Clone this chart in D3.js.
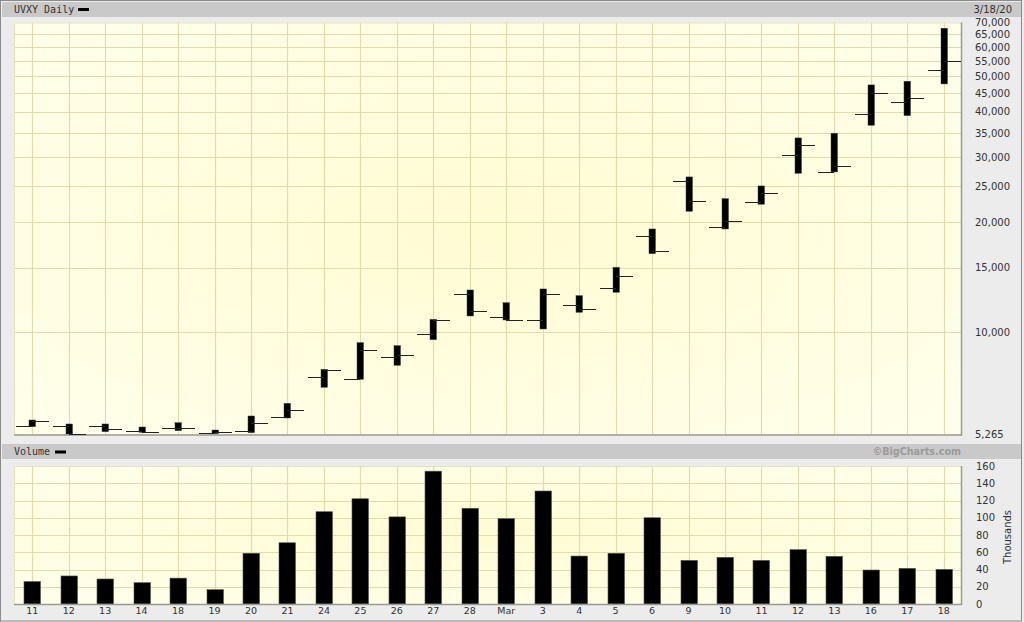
<!DOCTYPE html>
<html>
<head>
<meta charset="utf-8">
<script src="https://cdn.jsdelivr.net/npm/d3@7"></script>
<style>
  html, body { margin: 0; padding: 0; background: #ececec; }
  svg { display: block; }
</style>
</head>
<body>
<script>
// ---------------- DATA ----------------
const dates = ["2020-02-11","2020-02-12","2020-02-13","2020-02-14","2020-02-18","2020-02-19","2020-02-20","2020-02-21",
  "2020-02-24","2020-02-25","2020-02-26","2020-02-27","2020-02-28","2020-03-02","2020-03-03","2020-03-04","2020-03-05",
  "2020-03-06","2020-03-09","2020-03-10","2020-03-11","2020-03-12","2020-03-13","2020-03-16","2020-03-17","2020-03-18"];
const dayLabels = ["11","12","13","14","18","19","20","21","24","25","26","27","28","Mar","3","4","5","6","9","10","11","12","13","16","17","18"];
const openVals  = [5543,5543,5543,5372,5474,5315,5382,5888,7541,7460,8583,9898,12725,11035,10828,11854,13215,18285,25928,19421,22681,30470,27431,39419,42506,51970];
const highVals  = [5767,5624,5624,5519,5670,5416,5914,6405,7930,9372,9197,10855,13049,12048,13132,12591,15050,19142,26538,23157,25078,33903,34921,47298,48408,67529];
const lowVals   = [5529,5282,5358,5338,5392,5291,5325,5840,7082,7447,8132,9550,11083,10809,10214,11344,12862,16392,21394,19142,22356,27162,27386,36720,39000,47597];
const closeVals = [5731,5272,5440,5348,5474,5348,5659,6153,7871,8952,8675,10828,11458,10828,12725,11603,14276,16672,22824,20168,23955,32385,28490,44979,43505,54994];
const volumeK   = [26,32.5,29,24.7,30,16.6,58.8,71,107,122,101,154,111,99,131,55.6,58.8,100,50.6,54.1,50.6,63,55.3,39.4,41.4,40.2];
const priceTicks = [5265,10000,15000,20000,25000,30000,35000,40000,45000,50000,55000,60000,65000,70000];
const priceGrid  = [10000,15000,20000,25000,30000,35000,40000,45000,50000,55000,60000,65000];
const volTicks   = [0,20,40,60,80,100,120,140,160];
const title = "UVXY Daily";
const dateLabel = "3/18/20";
const volTitle = "Volume";
const credit = "\u00A9BigCharts.com";
const volUnit = "Thousands";

// ---------------- LAYOUT ----------------
const W = 1024, H = 622;
const plotL = 14, plotR = 962;
const pTop = 22.5, pBot = 434.5;
const vTop = 466, vBot = 604;

const svg = d3.select("body").append("svg").attr("width", W).attr("height", H);
const defs = svg.append("defs");
const grad = defs.append("radialGradient").attr("id", "bg").attr("cx", "50%").attr("cy", "50%").attr("r", "65%");
grad.append("stop").attr("offset", "0%").attr("stop-color", "#fffbd2");
grad.append("stop").attr("offset", "100%").attr("stop-color", "#ffffea");

// outer frame
svg.append("rect").attr("x", 0.5).attr("y", 0.5).attr("width", 1021).attr("height", 620.5)
  .attr("fill", "#ececec").attr("stroke", "#8a8a8a");

// header bands
svg.append("rect").attr("x", 2).attr("y", 2).attr("width", 1019).attr("height", 15).attr("fill", "#c9c9c9");
svg.append("rect").attr("x", 2).attr("y", 444).attr("width", 1019).attr("height", 15).attr("fill", "#c9c9c9");

const mono = "'DejaVu Sans Mono', monospace";
const sans = "'DejaVu Sans', Verdana, sans-serif";

svg.append("text").attr("x", 14).attr("y", 10).attr("dominant-baseline", "middle")
  .attr("font-family", mono).attr("font-size", 10).attr("fill", "#333").text(title);
svg.append("rect").attr("x", 78).attr("y", 8).attr("width", 11).attr("height", 3).attr("fill", "#000");
svg.append("text").attr("x", 1012).attr("y", 10).attr("dominant-baseline", "middle").attr("text-anchor", "end")
  .attr("font-family", sans).attr("font-size", 10).attr("fill", "#333").text(dateLabel);

svg.append("text").attr("x", 14).attr("y", 452).attr("dominant-baseline", "middle")
  .attr("font-family", mono).attr("font-size", 10).attr("fill", "#333").text(volTitle);
svg.append("rect").attr("x", 55).attr("y", 450.5).attr("width", 11).attr("height", 3).attr("fill", "#000");
svg.append("text").attr("x", 961).attr("y", 452).attr("dominant-baseline", "middle").attr("text-anchor", "end")
  .attr("font-family", sans).attr("font-weight", "bold").attr("font-size", 9.6).attr("fill", "#9a9a9a").text(credit);

// ---------------- SCALES ----------------
const idx = dates.map((d, i) => i);
const x = d3.scaleBand().domain(idx).range([plotL, plotR]).padding(0);
const cx = i => x(i) + x.bandwidth() / 2;
const y = d3.scaleLog().domain([5265, 70000]).range([pBot, pTop]);
const yv = d3.scaleLinear().domain([0, 160]).range([vBot, vTop]);

// ---------------- PRICE PANEL ----------------
svg.append("rect").attr("x", plotL).attr("y", pTop).attr("width", plotR - plotL).attr("height", pBot - pTop).attr("fill", "url(#bg)");
const gridColor = "#e0dcac";
const pg = svg.append("g");
pg.selectAll("line.h").data(priceGrid).join("line")
  .attr("x1", plotL).attr("x2", plotR)
  .attr("y1", d => Math.round(y(d)) + 0.5).attr("y2", d => Math.round(y(d)) + 0.5)
  .attr("stroke", gridColor).attr("stroke-width", 1.2);
pg.selectAll("line.v").data(idx).join("line")
  .attr("x1", i => Math.round(cx(i)) + 0.5).attr("x2", i => Math.round(cx(i)) + 0.5)
  .attr("y1", pTop).attr("y2", pBot)
  .attr("stroke", gridColor).attr("stroke-width", 1.2);
// frame
svg.append("path").attr("d", `M${plotL+0.5},${pBot} V${pTop+0.5} H${plotR}`).attr("fill", "none").attr("stroke", "#e4e2c0");
svg.append("path").attr("d", `M${plotL},${pBot+0.5} H${plotR-0.5} V${pTop}`).attr("fill", "none").attr("stroke", "#9a9a90").attr("stroke-width", 1.5);

// OHLC bars
const bars = svg.append("g");
idx.forEach(i => {
  const c = Math.round(cx(i));
  bars.append("rect")
    .attr("x", c - 3).attr("width", 6.5)
    .attr("y", y(highVals[i])).attr("height", Math.max(2, y(lowVals[i]) - y(highVals[i])))
    .attr("fill", "#000").attr("stroke", "#444").attr("stroke-width", 0.5);
  bars.append("line").attr("x1", c - 16).attr("x2", c)
    .attr("y1", Math.round(y(openVals[i])) + 0.5).attr("y2", Math.round(y(openVals[i])) + 0.5)
    .attr("stroke", "#222").attr("stroke-width", 1);
  bars.append("line").attr("x1", c).attr("x2", c + 17)
    .attr("y1", Math.round(y(closeVals[i])) + 0.5).attr("y2", Math.round(y(closeVals[i])) + 0.5)
    .attr("stroke", "#222").attr("stroke-width", 1);
});

// price axis
const yAxis = d3.axisRight(y).tickValues(priceTicks).tickSize(0).tickPadding(0).tickFormat(d3.format(","));
const ya = svg.append("g").attr("transform", `translate(975,0)`).call(yAxis);
ya.select(".domain").remove();
ya.selectAll("text").attr("font-family", sans).attr("font-size", 10).attr("fill", "#333").attr("x", 0);

// ---------------- VOLUME PANEL ----------------
svg.append("rect").attr("x", plotL).attr("y", vTop).attr("width", plotR - plotL).attr("height", vBot - vTop).attr("fill", "url(#bg)");
const vg = svg.append("g");
vg.selectAll("line.h").data(volTicks.slice(1, -1)).join("line")
  .attr("x1", plotL).attr("x2", plotR)
  .attr("y1", d => Math.round(yv(d)) + 0.5).attr("y2", d => Math.round(yv(d)) + 0.5)
  .attr("stroke", gridColor).attr("stroke-width", 1.2);
vg.selectAll("line.v").data(idx).join("line")
  .attr("x1", i => Math.round(cx(i)) + 0.5).attr("x2", i => Math.round(cx(i)) + 0.5)
  .attr("y1", vTop).attr("y2", vBot)
  .attr("stroke", gridColor).attr("stroke-width", 1.2);
svg.append("path").attr("d", `M${plotL+0.5},${vBot} V${vTop+0.5} H${plotR}`).attr("fill", "none").attr("stroke", "#e4e2c0");

svg.append("g").selectAll("rect").data(idx).join("rect")
  .attr("x", i => Math.round(cx(i)) - 8).attr("width", 16.5)
  .attr("y", i => yv(volumeK[i])).attr("height", i => vBot - yv(volumeK[i]))
  .attr("fill", "#000").attr("stroke", "#555").attr("stroke-width", 0.6);
svg.append("path").attr("d", `M${plotL},${vBot+0.5} H${plotR-0.5} V${vTop}`).attr("fill", "none").attr("stroke", "#9a9a90").attr("stroke-width", 1.5);

const yvAxis = d3.axisRight(yv).tickValues(volTicks).tickSize(0).tickPadding(0);
const yva = svg.append("g").attr("transform", `translate(976,0)`).call(yvAxis);
yva.select(".domain").remove();
yva.selectAll("text").attr("font-family", sans).attr("font-size", 10).attr("fill", "#333").attr("x", 0);

svg.append("text").attr("transform", "translate(1008,537) rotate(-90)").attr("text-anchor", "middle")
  .attr("dominant-baseline", "middle").attr("font-family", sans).attr("font-size", 10).attr("fill", "#333").text(volUnit);

// x axis
const xAxis = d3.axisBottom(x).tickSize(0).tickPadding(0).tickFormat(i => dayLabels[i]);
const xa = svg.append("g").attr("transform", `translate(0,607)`).call(xAxis);
xa.select(".domain").remove();
xa.selectAll("text").attr("font-family", sans).attr("font-size", 9.5).attr("fill", "#333");
</script>
</body>
</html>
